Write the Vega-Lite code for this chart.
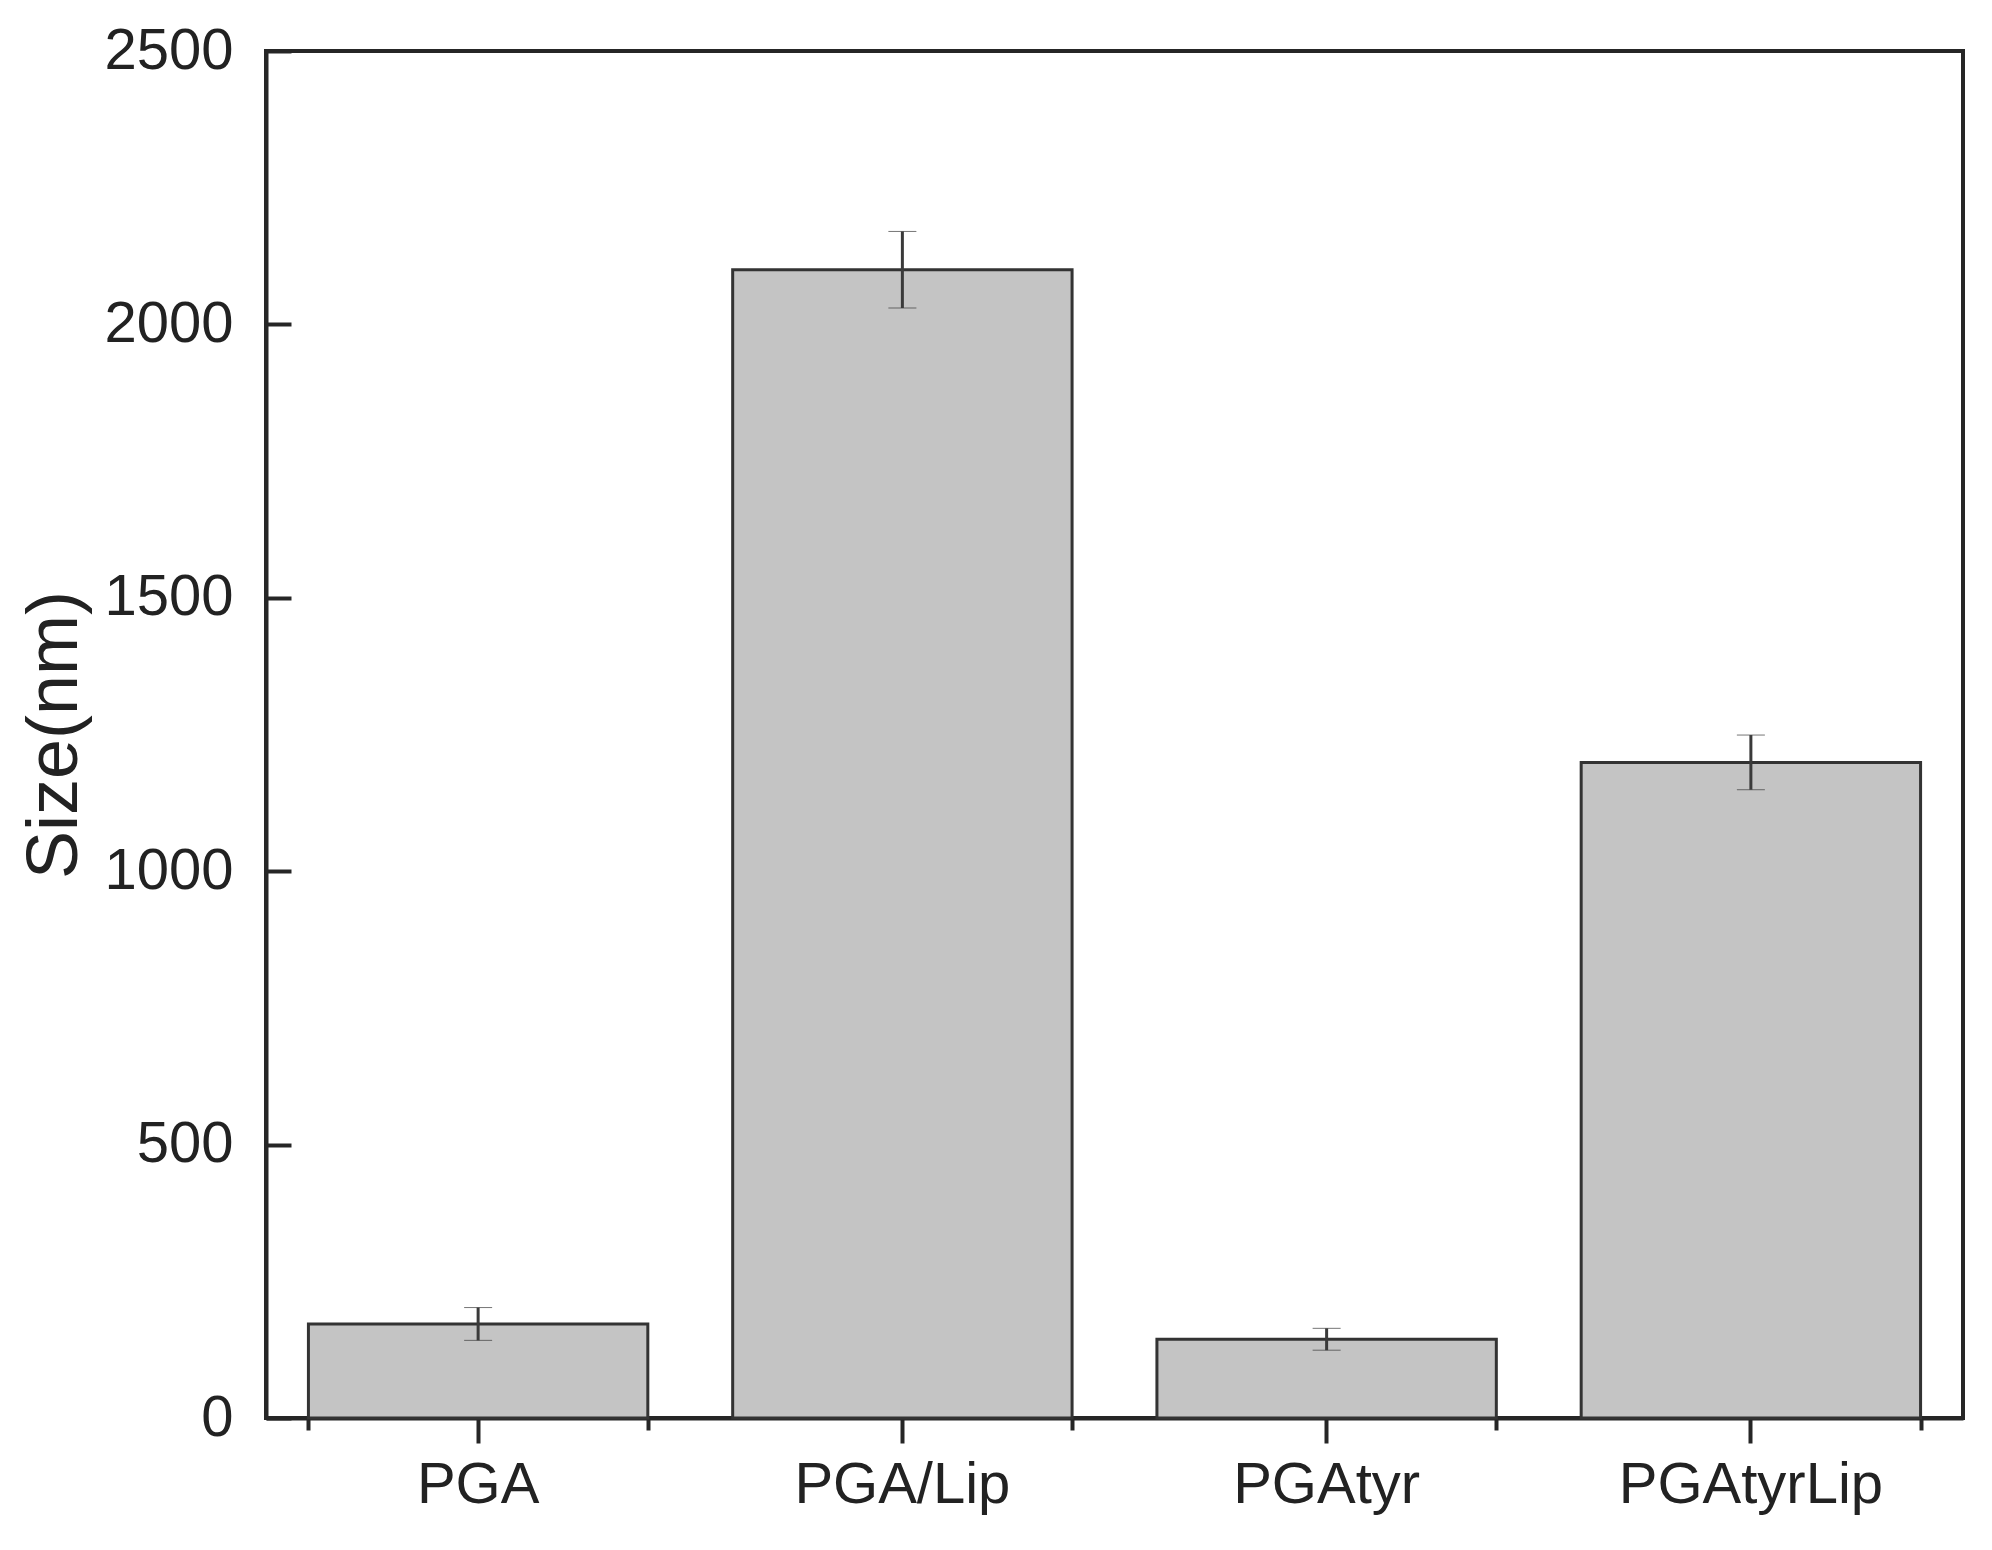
{
  "$schema": "https://vega.github.io/schema/vega-lite/v6.json",
  "width": 1697,
  "height": 1367,
  "autosize": {"type": "none"},
  "padding": {"left": 266, "top": 51, "right": 29, "bottom": 132},
  "background": "white",
  "config": {
    "font": "Liberation Sans",
    "view": {"stroke": "#262626", "strokeWidth": 4},
    "axis": {"grid": false, "domainColor": "#262626", "domainWidth": 4, "tickColor": "#262626", "tickWidth": 4, "labelColor": "#222222", "titleColor": "#222222", "labelFont": "Liberation Sans", "titleFont": "Liberation Sans", "titleFontWeight": "normal", "labelLimit": 0}
  },
  "data": {
    "values": [
      {"sample": "PGA", "size": 172, "lo": 142, "hi": 202},
      {"sample": "PGA/Lip", "size": 2100, "lo": 2030, "hi": 2170},
      {"sample": "PGAtyr", "size": 144, "lo": 124, "hi": 164},
      {"sample": "PGAtyrLip", "size": 1199, "lo": 1149, "hi": 1249}
    ]
  },
  "resolve": {"axis": {"x": "independent"}},
  "layer": [
    {
      "mark": {"type": "bar", "fill": "#c4c4c4", "stroke": "#333333", "strokeWidth": 3},
      "encoding": {
        "x": {"field": "sample", "type": "nominal", "sort": null,
          "scale": {"paddingInner": 0.2, "paddingOuter": 0.1},
          "axis": {"orient": "bottom", "title": null, "labelAngle": 0, "labelFontSize": 58, "labelPadding": 13, "tickSize": 25, "domain": true}},
        "y": {"field": "size", "type": "quantitative", "title": "Size(nm)",
          "scale": {"domain": [0, 2500], "nice": false},
          "axis": {"title": "Size(nm)", "titleFontSize": 72, "titlePadding": 12, "values": [0, 500, 1000, 1500, 2000, 2500], "format": "d", "labelFontSize": 58, "tickSize": -25, "labelPadding": 58}}
      }
    },
    {
      "mark": {"type": "errorbar", "ticks": {"size": 28, "color": "#3a3a3a", "strokeWidth": 3}, "rule": {"color": "#3a3a3a", "strokeWidth": 3}},
      "encoding": {
        "x": {"field": "sample", "type": "nominal", "sort": null,
          "axis": {"orient": "bottom", "title": null, "labels": false, "tickBand": "extent", "tickSize": 12, "domain": false}},
        "y": {"field": "lo", "type": "quantitative", "title": "Size(nm)"},
        "y2": {"field": "hi"}
      }
    }
  ]
}
